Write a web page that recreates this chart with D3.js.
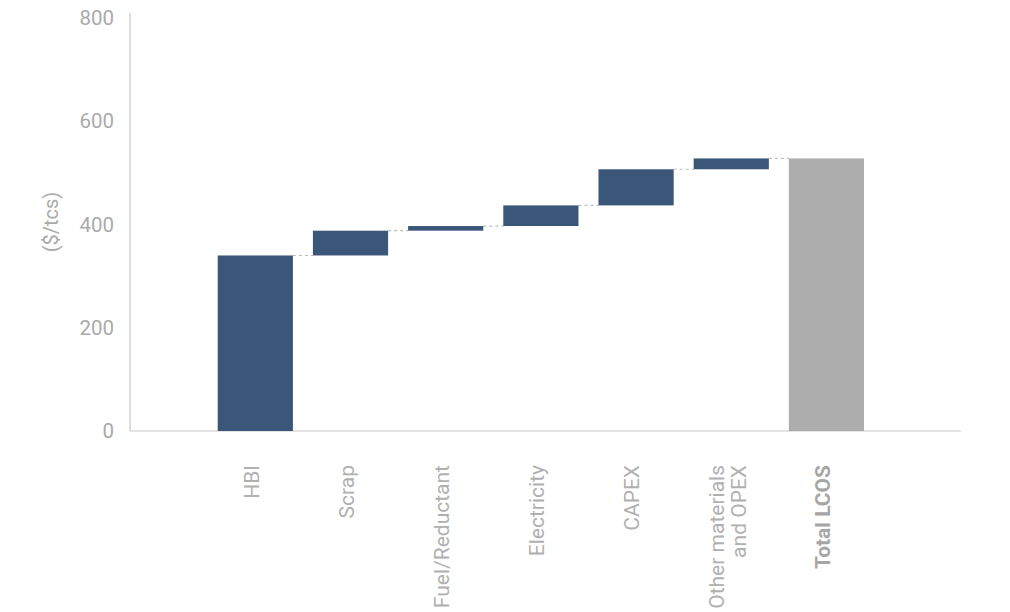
<!DOCTYPE html>
<html>
<head>
<meta charset="utf-8">
<script src="https://cdn.jsdelivr.net/npm/d3@7"></script>
<style>
  body { margin: 0; background: #fff; }
  text { font-family: Roboto, "Liberation Sans", sans-serif; }
</style>
</head>
<body>
<svg width="1010" height="612"></svg>
<script>
// waterfall data ($/tcs)
const categories = ['HBI', 'Scrap', 'Fuel/Reductant', 'Electricity', 'CAPEX', 'Other materials|and OPEX', 'Total LCOS'];
const steps = [340, 48, 9, 40, 70, 21];
const yTicks = [0, 200, 400, 600, 800];

const svg = d3.select('svg');
const plotLeft = 130, plotRight = 961, plotBase = 431, plotTop = 18;

// build start/end for every bar
let run = 0;
const bars = steps.map((v, i) => {
    const b = { cat: categories[i], y0: run, y1: run + v, total: false };
    run += v;
    return b;
});
bars.push({ cat: categories[6], y0: 0, y1: run, total: true });

const x = d3.scaleBand()
    .domain(categories)
    .range([plotLeft, plotRight])
    .paddingInner(0.21)
    .paddingOuter(0.97)
    .align(0.475);

const y = d3.scaleLinear().domain([0, 800]).range([plotBase, plotTop]);

// y axis (no ticks, just labels)
const yAxis = svg.append('g')
    .attr('transform', `translate(${plotLeft},0)`)
    .call(d3.axisLeft(y).tickValues(yTicks).tickSize(0).tickPadding(16));
yAxis.select('.domain').remove();
yAxis.selectAll('text')
    .attr('fill', '#aaaaaa')
    .style('font-size', '20.5px');

svg.append('line')
    .attr('x1', plotLeft).attr('x2', plotLeft)
    .attr('y1', 13).attr('y2', plotBase)
    .attr('stroke', '#c8c8c8').attr('stroke-width', 1.2);

svg.append('line')
    .attr('x1', plotLeft).attr('x2', plotRight)
    .attr('y1', plotBase).attr('y2', plotBase)
    .attr('stroke', '#c8c8c8').attr('stroke-width', 1.2);

svg.append('text')
    .attr('transform', 'translate(51,222) rotate(-90)')
    .attr('text-anchor', 'middle')
    .attr('dy', '0.35em')
    .attr('fill', '#aaaaaa')
    .style('font-size', '20px')
    .text('($/tcs)');

// dotted connectors
svg.append('g').selectAll('line')
    .data(bars.slice(0, -1))
    .enter().append('line')
    .attr('x1', (d) => x(d.cat) + x.bandwidth())
    .attr('x2', (d, i) => x(bars[i + 1].cat))
    .attr('y1', (d) => y(d.y1))
    .attr('y2', (d) => y(d.y1))
    .attr('stroke', '#bdbdbd')
    .attr('stroke-width', 1.2)
    .attr('stroke-dasharray', '3,3');

svg.append('g').selectAll('rect')
    .data(bars)
    .enter().append('rect')
    .attr('x', (d) => x(d.cat))
    .attr('width', x.bandwidth())
    .attr('y', (d) => y(d.y1))
    .attr('height', (d) => y(d.y0) - y(d.y1))
    .attr('fill', (d) => d.total ? '#adadad' : '#3a577a');

// rotated category labels
const lab = svg.append('g').selectAll('text')
    .data(bars)
    .enter().append('text')
    .attr('transform', (d) => `translate(${x(d.cat) + x.bandwidth() / 2 - 4},465) rotate(-90)`)
    .attr('text-anchor', 'end')
    .attr('fill', (d) => d.total ? '#a6a6a6' : '#b0b0b0')
    .style('font-size', '21px')
    .style('font-weight', (d) => d.total ? 'bold' : 'normal');

lab.each(function (d) {
    const parts = d.cat.split('|');
    const t = d3.select(this);
    const off = (parts.length - 1) * 1.04 / 2;
    parts.forEach((p, k) => {
        t.append('tspan')
            .attr('x', 0)
            .attr('y', 0)
            .attr('dy', `${0.35 - off + k * 1.04}em`)
            .text(p);
    });
});
</script>
</body>
</html>
